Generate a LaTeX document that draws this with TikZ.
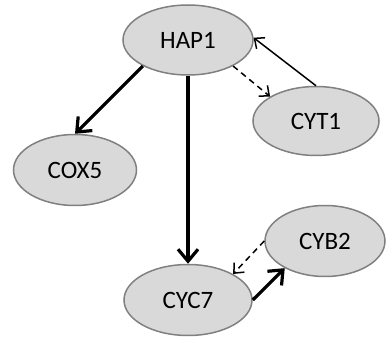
\documentclass[tikz,border=0pt]{standalone}
\usepackage{fontspec}
\setmainfont{Carlito}
\usetikzlibrary{shapes.geometric,arrows.meta}

\definecolor{genefill}{RGB}{217,217,217}
\definecolor{genedraw}{RGB}{128,128,128}

\begin{document}
\begin{tikzpicture}[x=1pt,y=-1pt,
    gene/.style={ellipse,draw=genedraw,fill=genefill,line width=1.5pt,inner sep=0pt,
        font=\fontsize{25}{29}\selectfont},
    strong/.style={line width=3.2pt,-{Straight Barb[length=12pt,width=20pt]}},
    weak/.style={line width=1.5pt,-{Straight Barb[length=8pt,width=14pt]}},
    weakdash/.style={weak,dash pattern=on 6pt off 4.5pt}]
    \useasboundingbox (0,0) rectangle (386,339);
    \node[gene,minimum width=130pt,minimum height=70pt] (hap) at (188,40) {HAP1};
    \node[gene,minimum width=126pt,minimum height=69pt] (cyt) at (316,121) {CYT1};
    \node[gene,minimum width=123pt,minimum height=71pt] (cox) at (75,170) {COX5};
    \node[gene,minimum width=128pt,minimum height=71pt] (cyc) at (188,300) {CYC7};
    \node[gene,minimum width=120pt,minimum height=71pt] (cyb) at (325,241) {CYB2};
    \draw [strong] (hap.210) -- (cox.north);
    \draw [strong] (hap.south) -- (cyc.north);
    \draw [weakdash] (hap.-30) -- (cyt.152);
    \draw [weak] (cyt.north) -- (hap.2);
    \draw [weakdash] (cyb.west) -- (cyc.30);
    \draw [strong] (cyc.east) -- (cyb.214);
\end{tikzpicture}
\end{document}
